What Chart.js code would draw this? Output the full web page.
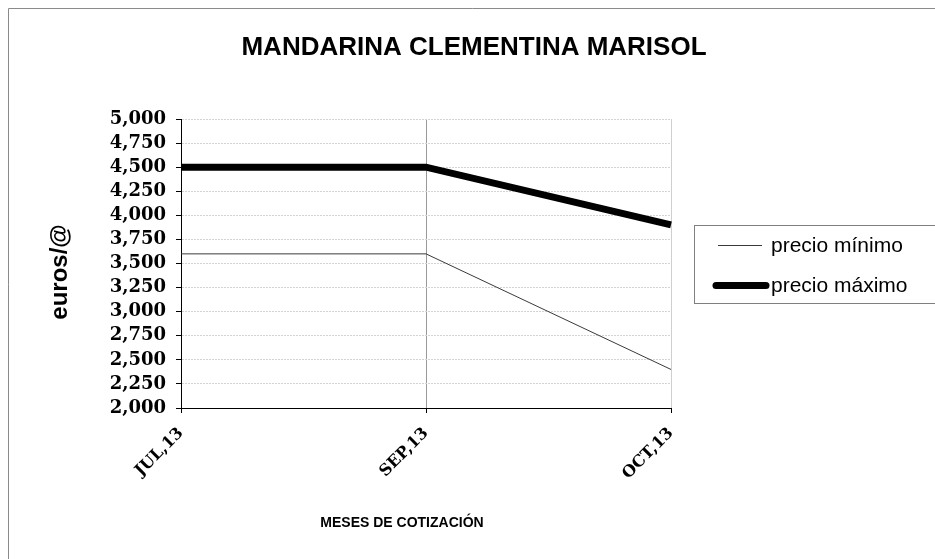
<!DOCTYPE html>
<html>
<head>
<meta charset="utf-8">
<script src="https://cdn.jsdelivr.net/npm/chart.js@4/dist/chart.umd.min.js"></script>
<style>
html,body{margin:0;padding:0;background:#fff;}
#wrap{width:935px;height:559px;position:relative;}
</style>
</head>
<body>
<div id="wrap"><canvas id="c" width="935" height="559"></canvas></div>
<script>
const categories = ["JUL,13", "SEP,13", "OCT,13"];
const precioMinimo = [3.6, 3.6, 2.4];
const precioMaximo = [4.5, 4.5, 3.9];
const yTicks = [2.0, 2.25, 2.5, 2.75, 3.0, 3.25, 3.5, 3.75, 4.0, 4.25, 4.5, 4.75, 5.0];
const chartTitle = "MANDARINA CLEMENTINA MARISOL";
const xTitle = "MESES DE COTIZACIÓN";
const yTitle = "euros/@";

const decor = {
  id: 'decor',
  afterDraw(chart) {
    const ctx = chart.ctx;
    ctx.save();
    // outer border (top & left)
    ctx.strokeStyle = '#8a8a8a';
    ctx.lineWidth = 1;
    ctx.beginPath();
    ctx.moveTo(8.5, 560); ctx.lineTo(8.5, 8.5); ctx.lineTo(936, 8.5);
    ctx.stroke();
    // title
    ctx.fillStyle = '#000';
    ctx.textAlign = 'center';
    ctx.textBaseline = 'middle';
    ctx.font = 'bold 26px "Liberation Sans", Arial, sans-serif';
    ctx.fillText(chartTitle, 474, 48);
    // x title
    ctx.font = 'bold 14px "Liberation Sans", Arial, sans-serif';
    ctx.fillText(xTitle, 402, 523);
    // y title
    ctx.save();
    ctx.translate(60, 272);
    ctx.rotate(-Math.PI / 2);
    ctx.font = 'bold 24px "Liberation Sans", Arial, sans-serif';
    ctx.fillText(yTitle, 0, 0);
    ctx.restore();
    // legend box
    ctx.strokeStyle = '#808080';
    ctx.lineWidth = 1;
    ctx.strokeRect(694.5, 225.5, 260, 78);
    const ds = chart.data.datasets;
    const rows = [245, 285];
    const xs = [[718, 762], [716, 766]];
    ds.forEach((d, i) => {
      ctx.strokeStyle = d.borderColor;
      ctx.lineWidth = d.borderWidth;
      ctx.lineCap = d.borderWidth > 2 ? 'round' : 'butt';
      ctx.beginPath();
      ctx.moveTo(xs[i][0], rows[i] + 0.5);
      ctx.lineTo(xs[i][1], rows[i] + 0.5);
      ctx.stroke();
      ctx.fillStyle = '#000';
      ctx.textAlign = 'left';
      ctx.textBaseline = 'middle';
      ctx.font = '21px "Liberation Sans", Arial, sans-serif';
      ctx.fillText(d.label, 771, rows[i] + 1);
    });
    ctx.restore();
  }
};

new Chart(document.getElementById('c'), {
  type: 'line',
  data: {
    labels: categories,
    datasets: [
      { label: 'precio mínimo', data: precioMinimo, borderColor: '#3a3a3a', borderWidth: 1, pointRadius: 0, tension: 0 },
      { label: 'precio máximo', data: precioMaximo, borderColor: '#000000', borderWidth: 7, pointRadius: 0, tension: 0, borderCapStyle: 'butt' }
    ]
  },
  options: {
    responsive: false,
    animation: false,
    devicePixelRatio: 1,
    layout: { padding: { left: 101, right: 264, top: 119, bottom: 51 } },
    plugins: { legend: { display: false }, title: { display: false }, tooltip: { enabled: false } },
    scales: {
      x: {
        offset: false,
        afterFit(s) { s.height = 100; },
        grid: {
          color: (c) => c.index === 2 ? '#cfcfcf' : '#999999',
          tickColor: '#000',
          tickLength: 5,
          drawOnChartArea: true
        },
        border: { color: '#000', width: 1 },
        ticks: {
          minRotation: 45, maxRotation: 45, autoSkip: false,
          color: '#000', padding: 11,
          font: { family: '"DejaVu Serif", serif', weight: 'bold', size: 16 }
        }
      },
      y: {
        min: 2, max: 5,
        afterFit(s) { s.width = 80; },
        afterBuildTicks(s) { s.ticks = yTicks.map(v => ({ value: v })); },
        grid: { color: '#d4d4d4', tickColor: '#000', tickLength: 5 },
        border: { color: '#000', width: 1, dash: [2, 1] },
        ticks: {
          autoSkip: false,
          color: '#000', padding: 10,
          font: { family: '"DejaVu Serif", serif', weight: 'bold', size: 18 },
          callback: (v) => Number(v).toFixed(3).replace('.', ',')
        }
      }
    }
  },
  plugins: [decor]
});
</script>
</body>
</html>
